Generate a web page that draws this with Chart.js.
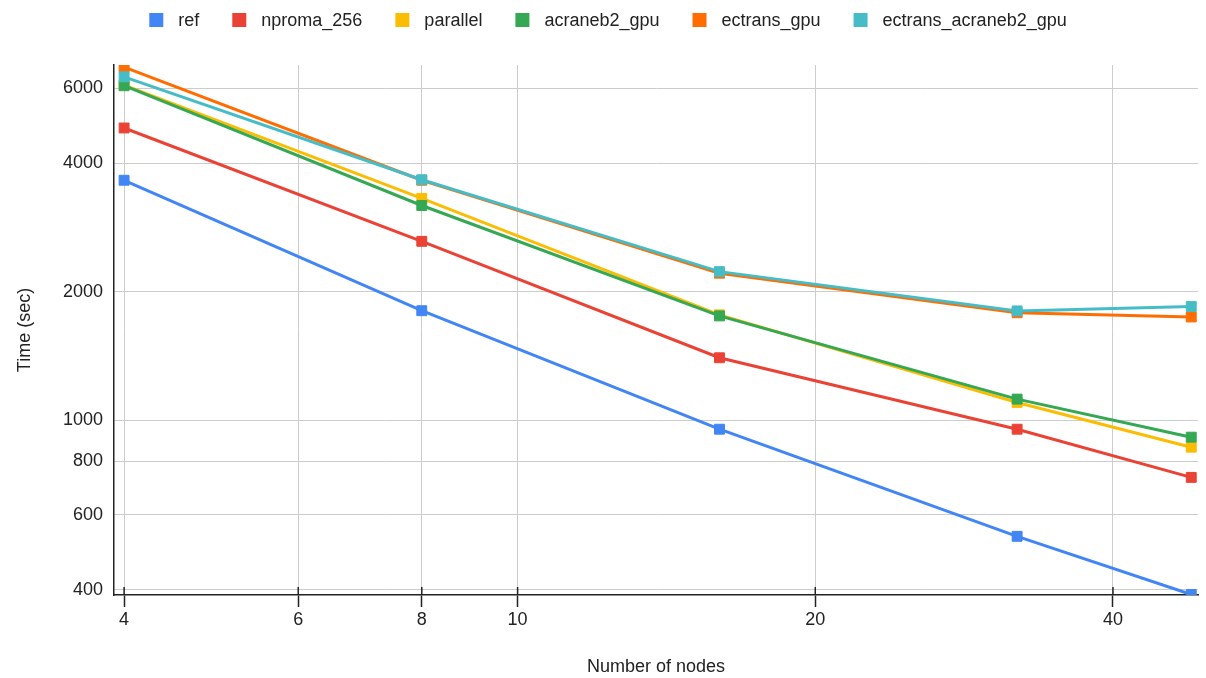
<!DOCTYPE html>
<html>
<head>
<meta charset="utf-8">
<script src="https://cdn.jsdelivr.net/npm/chart.js@4"></script>
<style>
  body { margin: 0; background: #fff; }
  #wrap { width: 1206px; height: 678px; }
</style>
</head>
<body>
<div id="wrap"><canvas id="timeChart" width="1206" height="678"></canvas></div>
<script>
// data
const nodes = [4, 8, 16, 32, 48];
const refTimes = [3650, 1805, 952, 534, 390];
const npromaTimes = [4840, 2625, 1400, 952, 734];
const parallelTimes = [6100, 3310, 1765, 1100, 864];
const acranebTimes = [6080, 3185, 1755, 1120, 912];
const ectransTimes = [6720, 3650, 2210, 1785, 1745];
const ectransAcranebTimes = [6380, 3660, 2229, 1803, 1846];

const seriesNames = ['ref', 'nproma_256', 'parallel', 'acraneb2_gpu', 'ectrans_gpu', 'ectrans_acraneb2_gpu'];
const seriesValues = [refTimes, npromaTimes, parallelTimes, acranebTimes, ectransTimes, ectransAcranebTimes];
const seriesColors = ['#4285F4', '#EA4335', '#FBBC04', '#34A853', '#FF6D01', '#46BDC6'];

const xTicks = [4, 6, 8, 10, 20, 40];
const yTicks = [400, 600, 800, 1000, 2000, 4000, 6000];

const FONT = "'Liberation Sans', Arial, sans-serif";
Chart.defaults.font.family = FONT;
Chart.defaults.font.size = 18;
Chart.defaults.color = '#222';

// legend drawn like the sheets one: box, wide gap, text
const sheetLegend = {
    id: 'sheetLegend',
    afterDraw(chart) {
        const ctx = chart.ctx;
        const sets = chart.data.datasets;
        const box = 14, gap = 15, space = 33, y = 20;
        ctx.save();
        ctx.font = '18px ' + FONT;
        ctx.textBaseline = 'middle';
        const widths = sets.map(d => ctx.measureText(d.label).width);
        const total = widths.reduce((a, w) => a + box + gap + w, 0) + space * (sets.length - 1);
        let x = (chart.width - total) / 2 + 5;
        sets.forEach((d, i) => {
            ctx.fillStyle = d.borderColor;
            ctx.fillRect(x, y - box / 2, box, box);
            ctx.fillStyle = '#222';
            ctx.fillText(d.label, x + box + gap, y + 1);
            x += box + gap + widths[i] + space;
        });
        ctx.restore();
    }
};

// small marks above the x axis so the ticks look like crosses
const xTickCross = {
    id: 'xTickCross',
    afterDraw(chart) {
        const { ctx, chartArea, scales: { x } } = chart;
        ctx.save();
        ctx.strokeStyle = '#222';
        ctx.lineWidth = 1.5;
        xTicks.forEach(v => {
            const px = x.getPixelForValue(v);
            ctx.beginPath();
            ctx.moveTo(px, chartArea.bottom - 8);
            ctx.lineTo(px, chartArea.bottom);
            ctx.stroke();
        });
        ctx.restore();
    }
};

const datasets = seriesNames.map((name, i) => ({
    label: name,
    data: nodes.map((n, j) => ({ x: n, y: seriesValues[i][j] })),
    borderColor: seriesColors[i],
    backgroundColor: seriesColors[i],
    borderWidth: 3,
    pointStyle: 'rect',
    pointRadius: 7,
    pointBorderWidth: 1,
    order: -i,
    clip: { left: 10, right: 10, top: 0, bottom: 0 }
}));

new Chart(document.getElementById('timeChart'), {
    type: 'line',
    data: { datasets },
    plugins: [sheetLegend, xTickCross],
    options: {
        responsive: false,
        animation: false,
        layout: { padding: { top: 65, right: 4, left: 0, bottom: 0 } },
        plugins: {
            legend: { display: false },
            tooltip: { enabled: false }
        },
        scales: {
            x: {
                type: 'logarithmic',
                min: 3.907,
                max: 48.76,
                afterBuildTicks: s => { s.ticks = xTicks.map(v => ({ value: v })); },
                afterFit: s => { s.height = 83; },
                ticks: { callback: v => String(v), padding: 2, maxRotation: 0, color: '#222' },
                grid: { color: '#cccccc', lineWidth: 1, tickColor: '#222', tickLength: 12, tickWidth: 1.5 },
                border: { color: '#222', width: 1.5 },
                title: { display: true, text: 'Number of nodes', color: '#222', padding: { top: 0, bottom: 0 } }
            },
            y: {
                type: 'logarithmic',
                min: 389,
                max: 6800,
                afterBuildTicks: s => { s.ticks = yTicks.map(v => ({ value: v })); },
                afterFit: s => { s.width = 114; },
                ticks: { callback: v => String(v), padding: 11, color: '#222' },
                grid: { color: '#cccccc', lineWidth: 1, drawTicks: false },
                border: { color: '#222', width: 1.5 },
                title: { display: true, text: 'Time (sec)', color: '#222', padding: { top: 14, bottom: 0 } }
            }
        }
    }
});
</script>
</body>
</html>
